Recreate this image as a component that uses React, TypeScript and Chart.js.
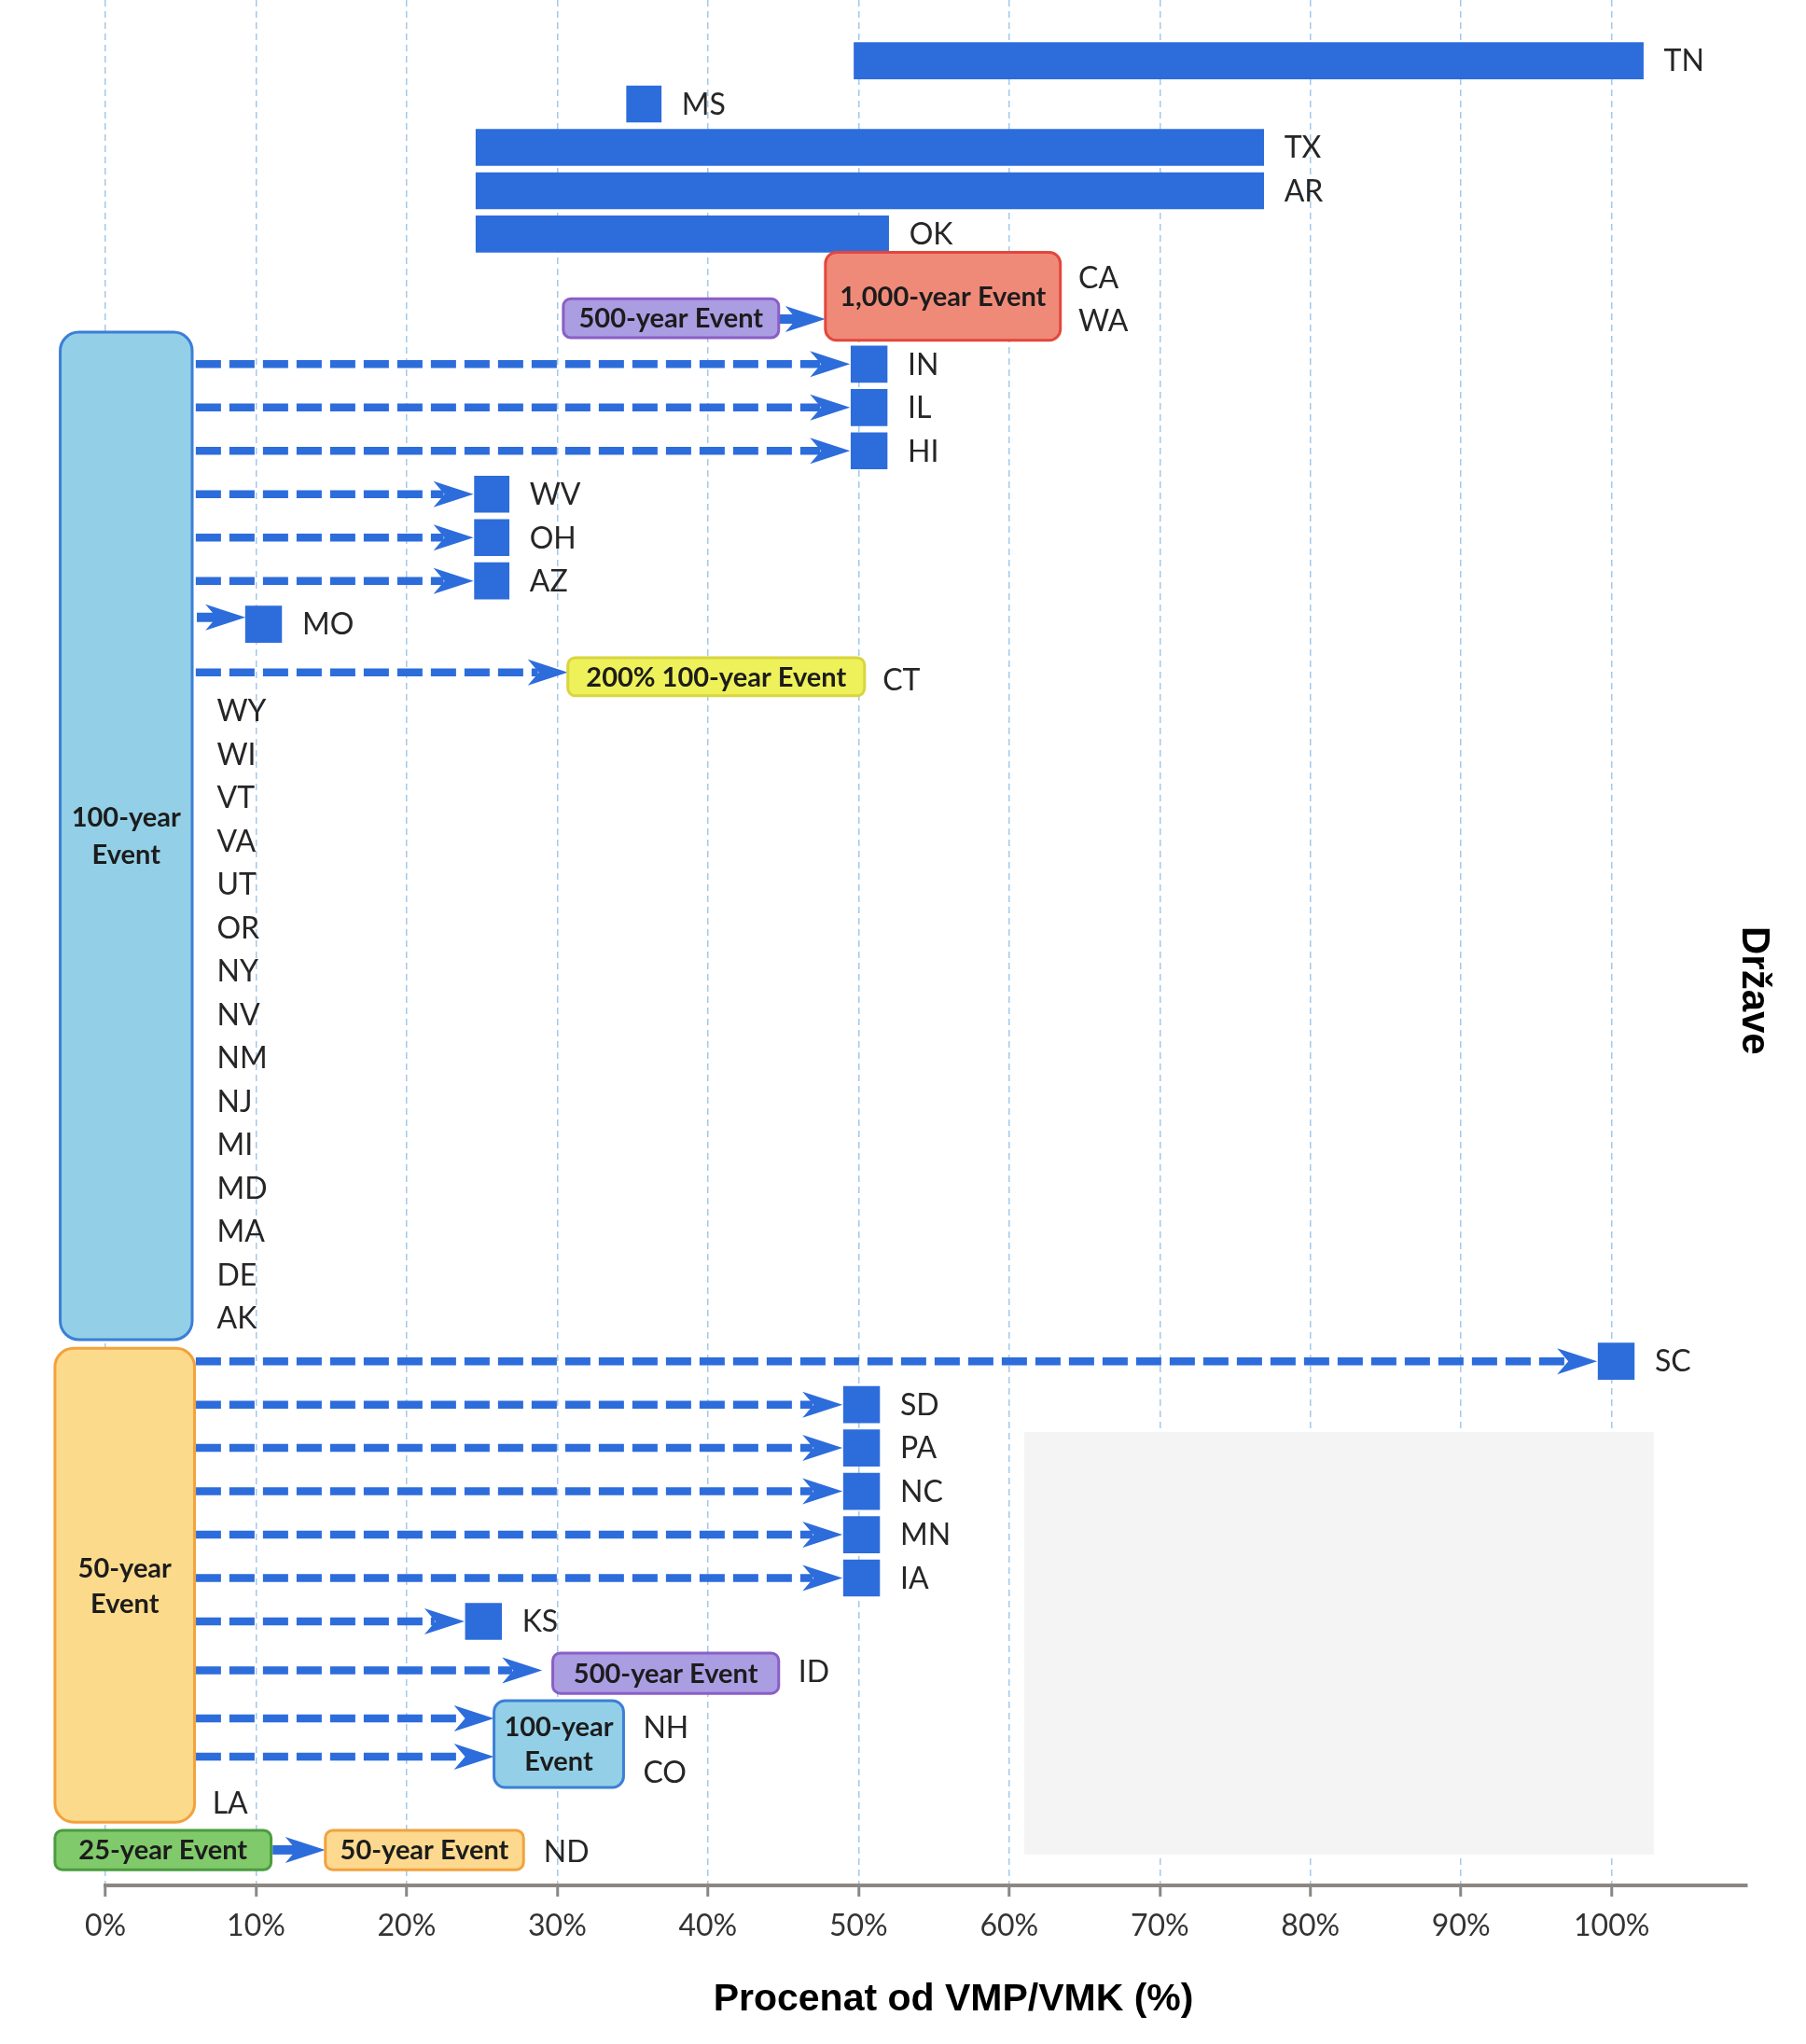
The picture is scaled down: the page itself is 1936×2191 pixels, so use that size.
import React, { useEffect, useRef } from 'react';
import { Chart, registerables } from 'chart.js';

Chart.register(...registerables);

// ---------------- data ----------------
const states = [
  'TN', 'MS', 'TX', 'AR', 'OK', 'CA', 'WA', 'IN', 'IL', 'HI', 'WV', 'OH', 'AZ', 'MO', 'CT',
  'WY', 'WI', 'VT', 'VA', 'UT', 'OR', 'NY', 'NV', 'NM', 'NJ', 'MI', 'MD', 'MA', 'DE', 'AK',
  'SC', 'SD', 'PA', 'NC', 'MN', 'IA', 'KS', 'ID', 'NH', 'CO', 'LA', 'ND',
];

const barStates = ['TN', 'MS', 'TX', 'AR', 'OK', 'IN', 'IL', 'HI', 'WV', 'OH', 'AZ', 'MO', 'SC', 'SD', 'PA', 'NC', 'MN', 'IA', 'KS'];
const barStart = [49.7, 34.6, 24.6, 24.6, 24.6, 49.5, 49.5, 49.5, 24.5, 24.5, 24.5, 9.3, 99.1, 49.0, 49.0, 49.0, 49.0, 49.0, 23.9];
const barEnd = [102.1, 36.9, 76.9, 76.9, 52.0, 51.9, 51.9, 51.9, 26.8, 26.8, 26.8, 11.7, 101.5, 51.4, 51.4, 51.4, 51.4, 51.4, 26.3];

const tickValues = [0, 10, 20, 30, 40, 50, 60, 70, 80, 90, 100];

// states reached by dashed arrows from the 100-year and 50-year group boxes
const from100Year = ['IN', 'IL', 'HI', 'WV', 'OH', 'AZ', 'CT'];
const from50Year = ['SC', 'SD', 'PA', 'NC', 'MN', 'IA', 'KS', 'ID', 'NH', 'CO'];

const xTitle = 'Procenat od VMP/VMK (%)';
const yTitle = 'Države';

// ---------------- layout / styling of annotations ----------------
const BLUE = '#2d6cdb';
const LABEL_FONT = '32px Lato';
const BOX_FONT = 'bold 29px Lato';

const blankPanel = { x0: 61.0, x1: 102.8, y0: 31.63, y1: 41.38 };

type EventBox = {
  lines: string[]; x0: number; x1: number; y0: number; y1: number;
  fill: string; stroke: string; r: number; gap?: number;
};

const eventBoxes: EventBox[] = [
  { lines: ['100-year', 'Event'], x0: -3.0, x1: 5.76, y0: 6.26, y1: 29.5, fill: '#93d0e7', stroke: '#3b7fd6', r: 20, gap: 40 },
  { lines: ['50-year', 'Event'], x0: -3.35, x1: 5.92, y0: 29.7, y1: 40.63, fill: '#fcda8c', stroke: '#f3a23c', r: 20, gap: 38 },
  { lines: ['1,000-year Event'], x0: 47.8, x1: 63.4, y0: 4.42, y1: 6.45, fill: '#f08a78', stroke: '#e2473d', r: 12 },
  { lines: ['500-year Event'], x0: 30.4, x1: 44.7, y0: 5.49, y1: 6.39, fill: '#aa9de2', stroke: '#8a5ec6', r: 8 },
  { lines: ['200% 100-year Event'], x0: 30.7, x1: 50.4, y0: 13.77, y1: 14.65, fill: '#eef159', stroke: '#d8d53f', r: 8 },
  { lines: ['500-year Event'], x0: 29.7, x1: 44.7, y0: 36.73, y1: 37.66, fill: '#aa9de2', stroke: '#8a5ec6', r: 8 },
  { lines: ['100-year', 'Event'], x0: 25.8, x1: 34.4, y0: 37.83, y1: 39.83, fill: '#93d0e7', stroke: '#3b7fd6', r: 12, gap: 37 },
  { lines: ['25-year Event'], x0: -3.35, x1: 11.0, y0: 40.82, y1: 41.73, fill: '#80ca6c', stroke: '#4a9c3f', r: 8 },
  { lines: ['50-year Event'], x0: 14.6, x1: 27.76, y0: 40.82, y1: 41.73, fill: '#fcd98e', stroke: '#f2a23f', r: 8 },
];

// non-bar arrow targets: tip x (%) and vertical offset (rows)
const arrowTargets: Record<string, { x: number; dy: number }> = {
  CT: { x: 30.7, dy: 0.11 },
  ID: { x: 29.0, dy: 0.13 },
  NH: { x: 25.8, dy: 0.24 },
  CO: { x: 25.8, dy: 0.12 },
};

// short solid arrows
const solidArrows = [
  { x0: 44.7, x1: 47.8, y: 5.96 },
  { x0: 6.07, x1: 9.3, y: 12.84 },
  { x0: 11.1, x1: 14.6, y: 41.27 },
];

// label anchors for states without their own bar: [x %, row offset]
const labelAnchors: Record<string, [number, number]> = {
  CA: [64.6, 0.0], WA: [64.6, 0.0], CT: [51.6, 0.27], ID: [46.0, 0.16],
  NH: [35.7, 0.45], CO: [35.7, 0.49], LA: [7.1, 0.18], ND: [29.1, 0.3],
};
const groupLabelX = 7.4;

// ---------------- drawing helpers ----------------
function arrowHead(ctx: CanvasRenderingContext2D, tip: number, y: number) {
  const L = 43, H = 14, N = 12;
  ctx.beginPath();
  ctx.moveTo(tip, y);
  ctx.lineTo(tip - L, y - H);
  ctx.lineTo(tip - L + N, y);
  ctx.lineTo(tip - L, y + H);
  ctx.closePath();
  ctx.fill();
}

function dashedArrow(ctx: CanvasRenderingContext2D, x0: number, tip: number, y: number) {
  ctx.save();
  ctx.strokeStyle = BLUE;
  ctx.fillStyle = BLUE;
  ctx.lineWidth = 8.5;
  ctx.setLineDash([27, 9]);
  ctx.beginPath();
  ctx.moveTo(x0, y);
  ctx.lineTo(tip - 32, y);
  ctx.stroke();
  ctx.setLineDash([]);
  arrowHead(ctx, tip, y);
  ctx.restore();
}

function solidArrow(ctx: CanvasRenderingContext2D, x0: number, tip: number, y: number) {
  ctx.save();
  ctx.strokeStyle = BLUE;
  ctx.fillStyle = BLUE;
  ctx.lineWidth = 10;
  ctx.beginPath();
  ctx.moveTo(x0, y);
  ctx.lineTo(tip - 30, y);
  ctx.stroke();
  arrowHead(ctx, tip, y);
  ctx.restore();
}

const annotationPlugin = {
  id: 'floodAnnotations',
  beforeDatasetsDraw(chart: any) {
    const { ctx } = chart;
    const xs = chart.scales.x;
    const ys = chart.scales.y;
    const X = (v: number) => xs.getPixelForValue(v);
    const Y = (v: number) => ys.getPixelForValue(v);
    ctx.save();
    ctx.fillStyle = '#f4f4f4';
    ctx.fillRect(X(blankPanel.x0), Y(blankPanel.y0), X(blankPanel.x1) - X(blankPanel.x0), Y(blankPanel.y1) - Y(blankPanel.y0));
    ctx.restore();
  },
  afterDatasetsDraw(chart: any) {
    const { ctx, chartArea } = chart;
    const xs = chart.scales.x;
    const ys = chart.scales.y;
    const X = (v: number) => xs.getPixelForValue(v);
    const Y = (v: number) => ys.getPixelForValue(v);
    const row = (s: string) => states.indexOf(s);

    // dashed arrows
    const startX = X(6.0);
    [...from100Year, ...from50Year].forEach((s) => {
      const bi = barStates.indexOf(s);
      let tip: number;
      let yv = row(s);
      if (bi >= 0) {
        tip = X(barStart[bi]) - 1;
      } else {
        tip = X(arrowTargets[s].x);
        yv += arrowTargets[s].dy;
      }
      dashedArrow(ctx, startX, tip, Y(yv));
    });

    solidArrows.forEach((a) => solidArrow(ctx, X(a.x0), X(a.x1), Y(a.y)));

    // event boxes
    eventBoxes.forEach((b) => {
      const x0 = X(b.x0), x1 = X(b.x1), y0 = Y(b.y0), y1 = Y(b.y1);
      ctx.save();
      ctx.beginPath();
      ctx.roundRect(x0, y0, x1 - x0, y1 - y0, b.r);
      ctx.fillStyle = b.fill;
      ctx.fill();
      ctx.lineWidth = 3;
      ctx.strokeStyle = b.stroke;
      ctx.stroke();
      ctx.fillStyle = '#1c1c1c';
      ctx.font = BOX_FONT;
      ctx.textAlign = 'center';
      ctx.textBaseline = 'middle';
      const cx = (x0 + x1) / 2;
      const cy = (y0 + y1) / 2;
      const gap = b.gap || 0;
      b.lines.forEach((t, i) => {
        const off = (i - (b.lines.length - 1) / 2) * gap;
        ctx.fillText(t, cx, cy + off + 1);
      });
      ctx.restore();
    });

    // state labels
    ctx.save();
    ctx.font = LABEL_FONT;
    ctx.fillStyle = '#262626';
    ctx.textAlign = 'left';
    ctx.textBaseline = 'middle';
    states.forEach((s, i) => {
      const bi = barStates.indexOf(s);
      let px: number, py: number;
      if (bi >= 0) {
        px = X(barEnd[bi]) + 22;
        py = Y(i);
      } else if (labelAnchors[s]) {
        px = X(labelAnchors[s][0]);
        py = Y(i + labelAnchors[s][1]);
      } else {
        px = X(groupLabelX);
        py = Y(i);
      }
      ctx.fillText(s, px, py + 1);
    });
    ctx.restore();

    // axis titles
    ctx.save();
    ctx.fillStyle = '#000';
    ctx.font = 'bold 41px "Liberation Sans", Arial, sans-serif';
    ctx.textAlign = 'center';
    ctx.textBaseline = 'middle';
    ctx.fillText(xTitle, X(56.3), chartArea.bottom + 123);
    ctx.translate(chartArea.right + 7, Y(21.45));
    ctx.rotate(Math.PI / 2);
    ctx.font = 'bold 42px "Liberation Sans", Arial, sans-serif';
    ctx.fillText(yTitle, 0, 0);
    ctx.restore();
  },
};

export default function App() {
  const canvasRef = useRef<HTMLCanvasElement | null>(null);

  useEffect(() => {
    if (!canvasRef.current) return;
    const data = barStates.map((s, i) => ({ x: [barStart[i], barEnd[i]], y: states.indexOf(s) }));
    const chart = new Chart(canvasRef.current, {
      type: 'bar',
      data: {
        datasets: [
          {
            label: 'VMP/VMK',
            data: data as any,
            backgroundColor: BLUE,
            borderWidth: 0,
            borderSkipped: false,
            barThickness: 39,
          },
        ],
      },
      options: {
        indexAxis: 'y',
        animation: false,
        responsive: true,
        maintainAspectRatio: false,
        layout: { padding: { left: 113, right: 63, top: 0, bottom: 0 } },
        plugins: { legend: { display: false }, tooltip: { enabled: false } },
        scales: {
          x: {
            type: 'linear',
            min: 0,
            max: 109,
            offset: false,
            afterBuildTicks: (axis: any) => {
              axis.ticks = tickValues.map((v) => ({ value: v }));
            },
            afterFit: (scale: any) => {
              scale.height = 170;
            },
            ticks: {
              callback: (v: any) => `${v}%`,
              font: { family: 'Lato', size: 32 },
              color: '#333',
              padding: 12,
              maxRotation: 0,
              autoSkip: false,
            },
            grid: {
              color: 'rgba(140, 188, 228, 0.8)',
              lineWidth: 1.5,
              tickLength: 12,
              tickColor: '#8c8783',
              tickWidth: 3,
              tickBorderDash: [],
              offset: false,
            },
            border: { display: true, color: '#8c8783', width: 4, dash: [7, 5] },
          },
          y: {
            type: 'linear',
            min: -1.4,
            max: 42.09,
            reverse: true,
            offset: false,
            display: false,
            grid: { display: false, offset: false },
          },
        },
      },
      plugins: [annotationPlugin],
    });
    return () => chart.destroy();
  }, []);

  return (
    <div style={{ position: 'absolute', left: 0, top: 0, width: 1936, height: 2191, background: '#fff' }}>
      <canvas ref={canvasRef} />
    </div>
  );
}
